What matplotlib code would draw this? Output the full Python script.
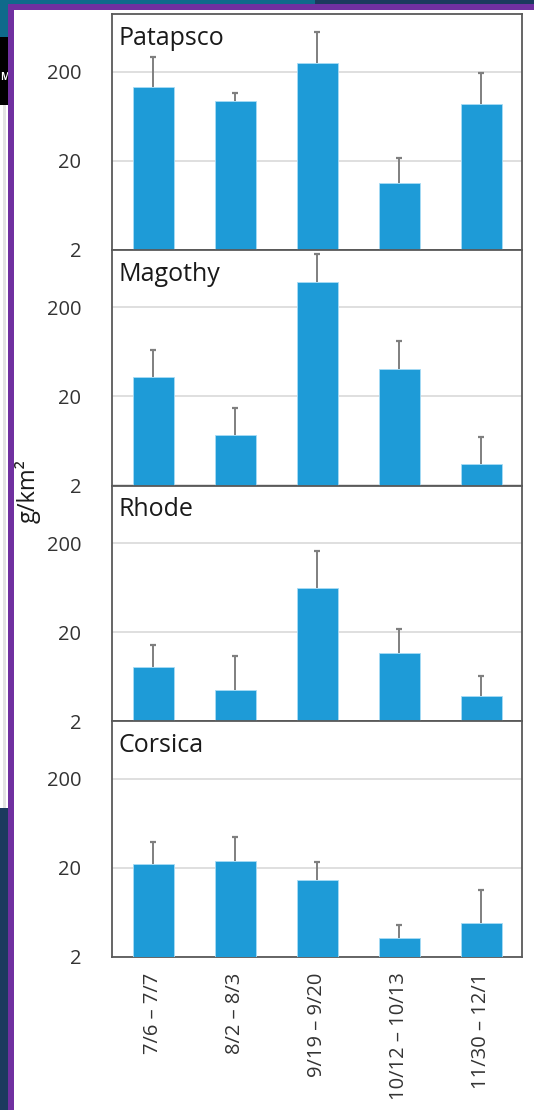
import matplotlib
matplotlib.use("Agg")
import matplotlib.pyplot as plt
from matplotlib.patches import Rectangle
import numpy as np

plt.rcParams['font.family'] = ['Open Sans', 'DejaVu Sans']

# data (upper error bar only)
dates = ["7/6 – 7/7", "8/2 – 8/3", "9/19 – 9/20", "10/12 – 10/13", "11/30 – 12/1"]
sites = ["Patapsco", "Magothy", "Rhode", "Corsica"]
patapsco = [133, 93, 252, 11.1, 86]
patapsco_err = [161, 23, 304, 10.5, 105]
magothy = [32.7, 7.3, 385, 40.2, 3.47]
magothy_err = [33.7, 7.5, 403, 42.8, 3.5]
rhode = [8.2, 4.44, 62.7, 11.6, 3.82]
rhode_err = [6.2, 6.4, 99, 10.3, 2.6]
corsica = [22.1, 24.2, 14.7, 3.24, 4.77]
corsica_err = [16.8, 20.8, 8.9, 1.34, 6.6]
yticks = [2, 20, 200]
ytick_labels = ["2", "20", "200"]

values = [patapsco, magothy, rhode, corsica]
errors = [patapsco_err, magothy_err, rhode_err, corsica_err]

W, H = 534, 1110
fig = plt.figure(figsize=(W / 100, H / 100), dpi=100)
fig.patch.set_facecolor("white")


def box(x0, y0, x1, y1, color, z=1):
    fig.patches.append(Rectangle((x0 / W, 1 - y1 / H), (x1 - x0) / W, (y1 - y0) / H,
                                 transform=fig.transFigure, facecolor=color,
                                 edgecolor="none", zorder=z))


# slide background bits around the chart
box(0, 0, 315, 4, "#0f6a8b")
box(315, 0, W, 4, "#1b3a5e")
box(0, 0, 8, 37, "#0f6a8b")
box(0, 37, 8, 105, "#000000")
box(3, 105, 6, 808, "#e3e3e3")
box(0, 808, 8, H, "#1b3a5e")
fig.text(0.5 / W, 1 - 78 / H, "M", color="white", fontsize=7, fontweight="bold",
         va="center", ha="left", zorder=2)
box(8, 4, W, 10, "#7030a0", z=3)
box(8, 4, 14, H, "#7030a0", z=3)

gs = fig.add_gridspec(4, 1, left=112 / W, right=522 / W, top=1 - 14 / H,
                      bottom=1 - 957 / H, hspace=0)

x = list(range(len(dates)))
for i, site in enumerate(sites):
    ax = fig.add_subplot(gs[i])
    ax.set_yscale("log")
    ax.bar(x, values[i], width=0.5, color="#1e9bd7", edgecolor="#a8dcf5",
           linewidth=0.6, zorder=3)
    eb = ax.errorbar(x, values[i], yerr=[[0] * len(dates), errors[i]], fmt="none",
                     ecolor="#7f7f7f", elinewidth=1.4, capsize=2.5, capthick=1.6, zorder=2)
    # drop the caps that sit on the bar tops
    for cap in eb[1]:
        if np.allclose(cap.get_ydata(), values[i]):
            cap.remove()
    ax.set_xlim(-0.5, len(dates) - 0.5)
    ax.set_ylim(2, 890)
    ax.set_yticks(yticks)
    ax.set_yticklabels(ytick_labels)
    ax.minorticks_off()
    ax.yaxis.grid(True, color="#d9d9d9", linewidth=1.2, zorder=0)
    ax.set_axisbelow(True)
    ax.tick_params(axis="y", length=0, pad=22, labelsize=14.5, labelcolor="#333333")
    for sp in ax.spines.values():
        sp.set_color("#595959")
        sp.set_linewidth(1.3)
    ax.text(0.017, 0.95, site, transform=ax.transAxes, fontsize=18,
            color="#1a1a1a", va="top", ha="left")
    if i < len(sites) - 1:
        ax.set_xticks([])
    else:
        ax.set_xticks(x)
        ax.set_xticklabels(dates, rotation=90, ha="center", va="top")
        ax.tick_params(axis="x", length=0, pad=11, labelsize=14.5, labelcolor="#333333")

fig.text(28 / W, 1 - 491 / H, "g/km²", rotation=90, fontsize=17, color="#1a1a1a",
         ha="center", va="center")

fig.savefig("out.png", dpi=100)
